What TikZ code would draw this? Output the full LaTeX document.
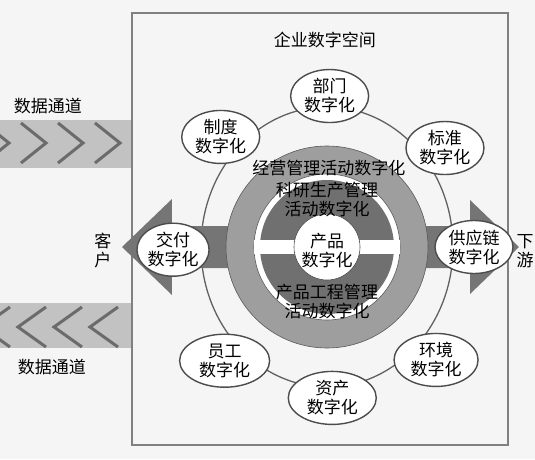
\documentclass[tikz,border=0pt]{standalone}
\usepackage{fontspec}
\setmainfont{Noto Sans CJK SC}
\usetikzlibrary{shapes.geometric}

\definecolor{bggray}{gray}{0.96}
\definecolor{ringgray}{gray}{0.62}
\definecolor{coregray}{gray}{0.44}
\definecolor{arrowgray}{gray}{0.46}
\definecolor{bandgray}{gray}{0.76}
\definecolor{chevgray}{gray}{0.42}
\definecolor{linegray}{gray}{0.38}
\definecolor{boxgray}{gray}{0.5}
\definecolor{satline}{gray}{0.3}

\begin{document}
\begin{tikzpicture}[
    x=1pt, y=1pt,
    lbl/.style={font=\fontsize{17}{19}\selectfont, align=center, inner sep=0pt},
    sat/.style={ellipse, draw=satline, line width=1.4pt, fill=white,
                inner sep=0pt, minimum width=78pt, minimum height=53pt,
                font=\fontsize{17}{19}\selectfont, align=center},
    chev/.style={draw=chevgray, line width=3pt},
    band/.style={fill=bandgray},
    bigarrow/.style={fill=arrowgray},
  ]
  \useasboundingbox (-327,-212) rectangle (208,247);
  \fill[bggray] (-327,-212) rectangle (208,247);

  % data channels
  \fill[band] (-327,79) rectangle (-195,127);
  \begin{scope}
    \clip (-327,79) rectangle (-195,127);
    \foreach \t in {-318,-281,-244,-207}
      \draw[chev] (\t-25,124) -- (\t,104) -- (\t-25,84);
  \end{scope}
  \fill[band] (-327,-101) rectangle (-195,-56);
  \begin{scope}
    \clip (-327,-101) rectangle (-195,-56);
    \foreach \t in {-345,-309,-273,-237}
      \draw[chev] (\t+28,-60) -- (\t,-80) -- (\t+28,-100);
  \end{scope}

  % enterprise space
  \draw[boxgray, line width=1.6pt] (-195,-198) rectangle (181,234);
  \node[lbl] (title) at (-2,207) {企业数字空间};

  \coordinate (c) at (0,0);
  \draw[linegray, line width=1.3pt] (c) ellipse [x radius=126, y radius=140];

  \fill[bigarrow] (-95,21) -- (-155,21) -- (-155,48) -- (-205,0)
    -- (-155,-48) -- (-155,-21) -- (-95,-21) -- cycle;
  \fill[bigarrow] (95,21) -- (143,21) -- (143,47) -- (192,0)
    -- (143,-47) -- (143,-21) -- (95,-21) -- cycle;

  \filldraw[fill=ringgray, draw=gray!70!black, line width=0.6pt] (c) circle (101);
  \filldraw[fill=white, draw=gray!70!black, line width=0.6pt] (c) circle (73);
  \fill[coregray] (c) circle (67);
  \fill[white] (-73,-7) rectangle (73,7);
  \filldraw[fill=white, draw=gray!60!black, line width=0.6pt] (c) circle (33);

  \node[lbl] (biz)  at (2,79)   {经营管理活动数字化};
  \node[lbl] (rnd)  at (0,47)   {科研生产管理\\活动数字化};
  \node[lbl] (core) at (0,-4)   {产品\\数字化};
  \node[lbl] (eng)  at (0,-55)  {产品工程管理\\活动数字化};

  \node[sat] (dept)     at (89:151)  {部门\\数字化};
  \node[sat] (rules)    at (134:153) {制度\\数字化};
  \node[sat] (standard) at (40:154)  {标准\\数字化};
  \node[sat, minimum width=66pt] (delivery) at (181:154) {交付\\数字化};
  \node[sat] (supply)   at (0:147)   {供应链\\数字化};
  \node[sat, minimum width=90pt] (staff)  at (228:153) {员工\\数字化};
  \node[sat, minimum width=88pt] (assets) at (272:151) {资产\\数字化};
  \node[sat, minimum width=84pt] (env)    at (314:157) {环境\\数字化};

  \node[lbl] (chin)   at (-279,141) {数据通道};
  \node[lbl] (chout)  at (-275,-120) {数据通道};
  \node[lbl] (client) at (-224,-4) {客\\户};
  \node[lbl] (down)   at (198,-4) {下\\游};
\end{tikzpicture}
\end{document}
